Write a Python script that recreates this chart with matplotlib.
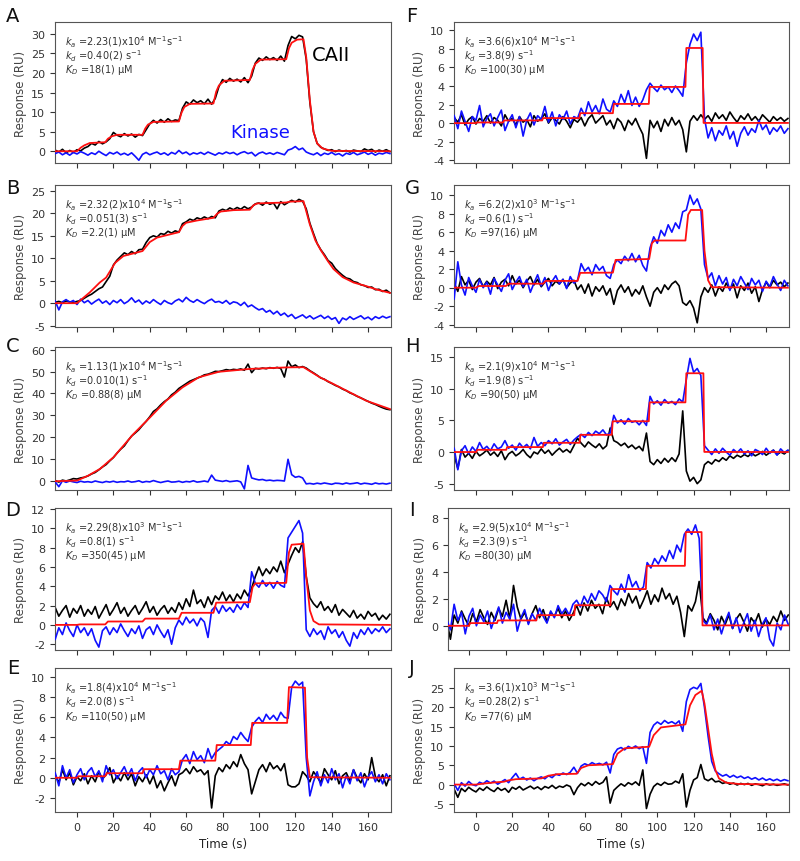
import numpy as np
import matplotlib
matplotlib.use("Agg")
import matplotlib.pyplot as plt

plt.rcParams["font.family"] = ["DejaVu Sans"]
plt.rcParams["mathtext.fontset"] = "dejavusans"
plt.rcParams["axes.unicode_minus"] = False

# sampling grid of the traces (s)
t = np.arange(-12, 173, 2)

# ---------------- panel A ----------------
a_black = [0.3, -0.2, 0.5, -0.4, 0.2, -0.3, 0.4, 0.1, 0.8, 1.2,
           2.0, 1.6, 2.5, 1.9, 2.4, 3.2, 4.8, 4.1, 3.7, 4.5,
           3.9, 4.4, 3.6, 4.3, 4.0, 5.5, 7.0, 7.9, 7.2, 8.1,
           7.4, 8.3, 7.6, 8.0, 7.8, 11.0, 12.6, 12.0, 13.1, 12.4,
           12.9, 12.1, 13.3, 12.0, 13.5, 16.5, 18.3, 17.6, 18.6, 17.9,
           18.4, 17.7, 18.8, 17.5, 19.2, 22.5, 23.8, 23.2, 24.1, 23.4,
           23.9, 23.2, 24.3, 23.0, 27.0, 29.3, 28.7, 29.6, 29.2, 23.5,
           12.5, 5.0, 2.0, 1.0, 0.6, 0.2, 0.4, -0.1, 0.3, 0.0,
           0.2, -0.2, 0.3, 0.1, -0.1, 0.6, 0.2, 0.5, -0.2, 0.3,
           0.0, 0.4, -0.1]
a_blue = [-0.6, -0.2, -0.9, -0.4, -1.0, -0.3, -0.7, -0.1, -0.5, -1.0,
          -0.4, -0.8, 0.0, -0.6, -1.1, -0.3, -0.7, -0.2, -0.9, -0.5,
          -1.0, -0.4, -1.3, -2.3, -0.8, -0.3, -0.9, -0.5, -0.2, -0.8,
          -0.4, -1.0, -0.3, -0.7, 0.2, -0.6, -0.2, -0.9, -0.4, -0.7,
          -0.3, -0.8, -0.2, -0.6, -1.0, -0.4, -0.7, -0.2, -0.6, -0.3,
          -0.9, -0.4, -0.1, -0.6, -0.3, -1.2, -0.5, -0.2, -0.7, -0.4,
          -0.8, -0.3, -0.6, -0.9, 0.3, 0.6, 1.2, 0.4, 0.8, -0.2,
          -0.6, -0.9, -0.4, -1.1, -0.5, -0.8, -0.3, -0.9, -0.6, -1.2,
          -0.5, -0.8, -0.3, -0.9, -0.6, -0.2, -0.8, -0.4, -1.0, -0.5,
          -0.7, -0.3, -0.6]
a_fit_t = [-12, 0, 2, 4, 7, 15.5, 17, 19, 22, 36, 37.5, 39, 42, 56, 57.5, 59, 62,
           75, 76.5, 78, 81, 95, 96.5, 98, 101, 115, 116.5, 118, 121, 124.5,
           126, 128, 130, 132, 135, 140, 172]
a_fit_y = [0, 0, 0.9, 1.5, 2.1, 2.3, 3.2, 3.8, 4.2, 4.2, 5.8, 6.8, 7.5, 7.6, 9.9, 11.3, 12.1,
           12.2, 15.2, 16.8, 18.0, 18.2, 20.8, 22.3, 23.4, 23.5, 26.3, 27.7, 28.5, 28.6,
           24.0, 13.0, 5.0, 2.0, 0.7, 0.1, 0.0]

# ---------------- panel B ----------------
b_black = [0.2, 0.4, 0.1, 0.5, 0.3, 0.2, 0.4, 0.6, 1.1, 1.6,
           2.0, 2.6, 3.2, 3.6, 4.8, 6.0, 8.5, 9.6, 10.4, 11.2,
           10.8, 11.5, 11.0, 11.9, 12.0, 13.5, 14.6, 15.0, 14.7, 15.5,
           15.3, 16.0, 15.6, 16.1, 15.8, 17.7, 18.1, 18.7, 18.4, 19.0,
           18.7, 19.2, 18.8, 19.3, 19.0, 20.5, 20.9, 20.6, 21.2, 20.8,
           21.3, 20.9, 21.5, 21.0, 21.4, 22.1, 22.3, 21.8, 22.5, 22.0,
           22.3, 21.0, 22.6, 21.9, 22.4, 22.9, 22.5, 23.1, 22.7, 21.0,
           17.8, 15.5, 13.3, 11.9, 10.8, 9.5, 8.9, 7.7, 6.9, 6.2,
           5.6, 5.4, 4.8, 4.6, 4.1, 3.9, 3.5, 3.6, 3.0, 3.1,
           2.6, 2.9, 2.3]
b_blue = [0.5, -1.5, 0.3, 0.8, 0.2, 0.6, -0.3, 0.9, 0.1, 0.6,
          -0.2, 0.4, 0.9, 0.0, 0.5, -0.3, 0.6, 0.1, 0.8, -0.1,
          0.4, 1.2, 0.2, 0.7, -0.2, 0.5, 0.0, 0.8, 0.2, -0.3,
          0.6, 0.1, -0.2, 0.5, 0.9, 0.3, 1.3, 0.6, 0.2, 0.8,
          0.3, -0.1, 0.5, 0.9, 0.2, 0.4, 0.0, 0.6, -0.2, 0.3,
          0.1, -0.5, 0.2, -0.8, -0.4, -1.0, -1.5, -1.2, -2.0, -1.6,
          -2.4, -1.8, -2.7, -2.2, -3.0, -2.5, -3.4, -3.0, -2.6, -3.3,
          -2.8, -3.5, -3.1, -2.7, -3.4, -2.9, -3.6, -3.2, -4.5, -3.3,
          -3.7, -3.0, -3.6, -3.2, -2.8, -3.5, -3.1, -3.7, -3.0, -3.4,
          -2.9, -3.3, -3.0]
b_fit_t = [-12, 0, 7, 12.5, 16, 21, 25.5, 36, 40, 44, 56, 58, 60, 66, 75, 77, 79, 86,
           95, 97, 99, 106, 115, 117, 124.5, 128, 131, 134, 138, 141, 146, 152, 159, 165, 172]
b_fit_y = [0, 0, 2.4, 4.6, 5.7, 9.0, 10.5, 11.6, 13.6, 14.6, 15.8, 17.2, 17.9, 18.4, 19.0,
           19.9, 20.4, 20.7, 20.8, 21.8, 22.2, 22.3, 22.4, 22.6, 22.7, 17.5, 14.0, 11.8,
           9.3, 7.6, 5.8, 4.6, 3.8, 3.0, 2.3]

# ---------------- panel C ----------------
c_black = [0.3, -0.4, 0.5, 0.1, 0.6, 1.2, 1.0, 1.5, 1.8, 2.4,
           3.3, 4.0, 5.2, 6.5, 7.6, 9.3, 10.8, 12.8, 14.6, 16.1,
           18.5, 20.6, 22.0, 23.5, 25.5, 27.3, 29.4, 31.8, 33.0, 34.8,
           36.3, 37.5, 39.4, 40.6, 42.3, 43.4, 44.5, 45.6, 46.3, 47.0,
           47.6, 48.5, 48.8, 49.4, 50.1, 50.0, 50.4, 50.9, 50.6, 51.0,
           50.8, 51.2, 50.6, 53.4, 49.5, 51.5, 51.2, 51.6, 51.3, 51.8,
           51.5, 51.9, 51.4, 47.5, 54.8, 52.2, 53.0, 51.8, 52.3, 51.6,
           50.4, 49.4, 48.3, 47.1, 46.5, 45.4, 44.6, 43.7, 43.0, 42.0,
           41.3, 40.3, 39.6, 38.7, 38.0, 37.2, 36.4, 35.6, 35.0, 34.2,
           33.5, 32.9, 32.6]
c_blue = [-0.3, -2.5, 0.2, -0.5, 0.1, -0.3, -0.6, 0.0, -0.4, -0.2,
          -0.5, 0.1, -0.3, -0.6, -0.1, -0.4, 0.0, -0.5, -0.2, -0.3,
          0.1, -0.4, -0.2, 0.2, -0.5, -0.1, -0.3, 0.3, -0.2, -0.6,
          -0.2, 0.1, -0.4, -0.3, 0.0, -0.5, -0.1, -0.3, 0.2, -0.4,
          -0.2, 0.1, -0.3, 2.8, 0.5, 0.2, -0.1, 0.3, -0.2, 0.0,
          0.2, -0.3, -3.5, 7.2, 1.5, 1.0, 0.6, 0.8, 0.3, 0.5,
          0.2, 0.4, 0.3, 0.1, 10.0, 3.0, 1.8, 2.2, 1.5, -1.2,
          -1.0, -1.3, -0.9, -1.2, -0.8, -1.1, -1.4, -0.9, -1.0, -1.3,
          -0.8, -1.2, -1.0, -0.7, -1.3, -0.9, -1.1, -1.4, -0.8, -1.2,
          -1.0, -1.3, -0.9]
c_fit_t = [-12, 0, 6, 12.6, 20, 31, 40, 49, 58, 67, 78, 95, 115, 124.5,
           133.5, 141, 150, 159, 172]
c_fit_y = [0, 0.3, 2.5, 5.6, 10.9, 21.5, 29.0, 36.7, 42.8, 47.4, 49.9, 51.2, 51.9, 52.0,
           47.4, 44.3, 40.5, 36.7, 32.9]

# ---------------- panel D ----------------
d_black = [1.8, 0.9, 1.5, 2.0, 0.8, 1.7, 1.2, 2.0, 0.9, 1.6,
           1.1, 1.9, 0.7, 1.4, 2.1, 1.0, 1.6, 2.3, 1.2, 1.8,
           0.9, 1.5, 2.0, 1.1, 1.7, 2.4, 1.3, 1.9, 1.0, 1.6,
           2.0, 1.2, 1.8, 1.3, 2.3, 1.6, 2.7, 1.9, 3.6, 2.2,
           2.6, 1.8, 2.9, 2.1, 3.0, 2.6, 3.4, 2.5, 3.1, 2.4,
           3.2, 2.7, 3.6, 3.0, 3.8, 5.0, 6.0, 5.1, 5.8, 5.3,
           6.0, 5.5, 6.6, 5.4, 6.3, 7.2, 8.0, 7.5, 8.6, 5.0,
           2.8, 2.2, 1.8, 2.4, 1.5, 1.9, 1.3, 2.1, 1.0, 1.6,
           1.2, 0.8, 1.5, 0.7, 1.1, 0.6, 1.4, 0.9, 1.2, 0.5,
           1.0, 0.6, 1.1]
d_blue = [-1.5, -0.3, -1.0, 0.2, -0.6, -1.2, 0.0, -0.8, -0.3, -1.1,
          -0.4, -1.6, -2.3, -0.6, -0.2, -1.0, -0.3, -0.8, 0.1, -0.6,
          -1.2, -0.4, -0.9, -0.1, -1.4, -0.5, -0.2, -1.0, 0.0, -0.7,
          -1.3, -0.5, -2.0, -0.3, 0.5, 0.0, 0.8, 0.2, 0.6, -0.1,
          0.7, 0.3, -1.3, 1.5, 1.9, 1.2, 2.0, 1.4, 1.8, 1.3,
          2.1, 1.6, 2.3, 1.8, 5.5, 4.3, 3.9, 4.6, 4.0, 4.4,
          3.8, 4.5, 4.1, 3.9, 9.0, 9.6, 10.2, 10.8, 9.5, -0.5,
          -1.2, -0.4, -1.0, -0.6, -1.5, -0.2, -0.9, -0.5, -1.3, -0.7,
          -1.6, -2.2, -0.8, -1.4, -0.5, -1.0, -0.3, -0.9, -0.4, -0.7,
          -0.2, -0.8, -0.4]
d_fit_t = [-12, 0, 1.5, 15.5, 17, 36, 37.5, 56, 57.5, 75, 76.5, 95, 96.5, 98,
           115, 116.5, 118, 124.5, 126, 128, 130, 133, 172]
d_fit_y = [0, 0, 0.05, 0.05, 0.35, 0.35, 0.65, 0.65, 1.25, 1.25, 2.3, 2.35, 3.9, 4.3,
           4.35, 7.5, 8.3, 8.4, 5.0, 1.5, 0.4, 0.05, 0]

# ---------------- panel E ----------------
e_black = [0.3, -0.5, 0.8, -0.2, 0.5, -0.7, 0.1, -0.3, 0.4, -0.6,
           0.2, -0.4, 0.6, -0.1, 0.3, 1.0, -0.5, 0.2, -0.3, 0.5,
           -0.2, 0.4, -0.8, 0.1, -0.4, 0.3, -0.6, 0.2, -1.0, -0.3,
           -1.3, -0.5, 0.2, -0.8, 0.3, 0.5, 0.9, 0.4, 1.1, 0.6,
           0.8, 0.3, 0.7, -3.0, 0.2, 1.0, 0.6, 1.3, 0.9, 1.6,
           1.1, 2.3, 1.4, 0.8, -1.6, -0.4, 0.8, 1.3, 0.6, 1.5,
           0.9, 1.2, 0.7, 1.4, -0.7, -0.9, -0.9, -0.6, 0.6, 0.2,
           -0.4, 0.6, 0.1, -0.5, 0.9, 0.3, -0.2, 0.7, -0.6, 0.2,
           0.5, -0.3, 0.8, 0.0, -0.5, 0.4, -0.2, 2.0, 0.1, -0.4,
           0.3, -0.8, 0.2]
e_blue = [0.5, -0.8, 1.2, 0.0, 0.8, -0.5, 0.3, 0.9, -0.2, 0.6,
          1.0, 0.1, 0.7, -0.4, 1.2, 0.3, 0.8, -0.1, 0.5, 1.1,
          0.2, 0.9, -0.3, 0.6, 1.0, 0.0, 0.8, 0.3, 1.2, 0.4,
          0.7, -0.2, 0.9, 0.3, 0.6, 1.8, 2.3, 1.4, 2.6, 1.8,
          2.2, 1.5, 2.9, 1.9, 2.5, 2.8, 3.1, 3.6, 3.3, 4.1,
          3.8, 4.5, 4.0, 3.6, 5.0, 5.6, 6.0, 5.5, 6.3, 5.8,
          6.2, 5.7, 6.5, 6.0, 5.9, 9.0, 9.6, 9.2, 9.5, 2.0,
          -1.8, -0.4, 0.6, -0.8, 0.3, -0.5, 0.9, -0.2, 0.4, -1.0,
          0.2, -0.6, 0.8, -0.3, 0.5, -0.9, 0.1, 0.6, -0.4, 0.3,
          -0.6, 0.4, -0.2]
e_fit_t = [-12, 0, 0.8, 15.5, 16.3, 36, 36.8, 56, 56.8, 76, 76.8, 95.5, 96.3,
           115.5, 116.5, 125.3, 126.5, 128, 172]
e_fit_y = [0, 0, 0.15, 0.15, 0.45, 0.45, 0.85, 0.85, 1.7, 1.7, 3.25, 3.25, 5.45,
           5.45, 9.0, 8.95, 2.0, 0.05, 0.0]

# ---------------- panel F ----------------
f_black = [0.6, 0.1, 0.9, -0.2, 0.4, 0.7, -0.1, 0.5, 0.2, 0.8,
           0.0, 0.6, 0.3, -0.3, 0.9, 0.2, 0.5, -0.2, 0.7, 0.1,
           0.4, -0.4, 0.8, 0.2, 0.5, 1.0, 0.0, 0.6, 0.3, -0.1,
           0.7, 0.2, -0.5, 0.4, 0.1, 0.6, -0.3, 0.5, 0.9, 0.0,
           0.4, 0.8, -0.2, 0.3, -0.6, 0.5, 0.1, -0.8, 0.3, -0.2,
           0.5, -0.4, -1.2, -3.8, 0.3, -0.5, 0.2, -0.9, 0.4, -0.3,
           0.6, -0.2, 0.3, -0.7, -3.1, 0.2, 0.8, 0.3, 0.9, 0.4,
           0.8, 0.2, 1.1, 0.5, 0.9, 0.3, 1.2, 0.6, 0.1, 0.8,
           0.4, 1.0, 0.3, 0.7, 0.2, 0.9, 0.5, 0.1, 0.7, 0.3,
           0.6, 0.2, 0.5]
f_blue = [0.8, -0.6, 1.3, 0.2, -0.9, 0.7, 0.3, 1.9, -0.4, 0.5,
          1.0, -0.3, 0.6, 1.4, -0.8, 0.2, 0.9, -0.5, 0.7, -1.4,
          0.3, 1.1, -0.2, 0.8, 0.4, 1.8, 0.1, 1.2, -0.3, 0.9,
          0.4, 1.3, -0.1, 0.7, 0.5, 1.6, 0.8, 2.3, 1.2, 1.9,
          1.0, 2.6, 1.5, 1.2, 2.4, 1.8, 3.1, 2.2, 3.5, 1.9,
          2.8, 1.8, 2.5, 3.6, 4.3, 3.8, 3.4, 4.1, 3.6, 3.9,
          3.3, 4.0, 3.5, 2.9, 6.5, 8.5, 9.6, 8.9, 9.8, 0.5,
          -1.6, -0.5, -1.9, -0.8, -1.3, -0.3, -1.7, -0.9, -2.5, -1.1,
          -0.4, -1.3, -0.6, -1.0, 0.3, -0.7, -0.2, -1.2, -0.5, -0.9,
          -0.3, -1.1, -0.6]
f_fit_t = [-12, 0, 0.5, 15, 15.5, 36.5, 37, 57, 57.5, 75.5, 76, 95.3, 95.8,
           115.5, 116, 125, 125.5, 172]
f_fit_y = [0, 0, 0.07, 0.07, 0.29, 0.29, 0.54, 0.54, 1.07, 1.07, 2.07, 2.07, 3.9,
           3.9, 8.1, 8.1, 0.02, 0.02]

# ---------------- panel G ----------------
g_black = [0.5, -0.4, 1.2, 0.3, 0.8, -0.2, 0.6, 1.0, 0.1, 0.7,
           0.3, 1.1, -0.1, 0.6, 0.9, 0.2, 1.3, 0.4, 0.8, 0.0,
           0.7, 1.2, 0.3, 0.9, 0.1, 0.6, 1.0, 0.2, 0.7, 0.4,
           0.9, 0.0, 0.5, 0.8, -0.2, 0.3, -0.6, 0.4, -0.9, 0.1,
           -0.4, 0.2, -0.8, -0.1, -1.8, -0.3, 0.3, -0.5, 0.1, -0.9,
           -0.2, -0.7, 0.2, -1.0, -2.0, -0.5, 0.0, -0.6, 0.3, -0.2,
           0.4, 0.7, 0.2, -1.6, -1.9, -1.4, -2.2, -3.8, -1.0, 0.0,
           -0.5, 0.3, -0.9, 0.1, -0.4, 0.5, -0.2, 0.4, -1.1, 0.2,
           -0.3, 0.5, -0.6, 0.1, -1.5, -0.2, 0.6, 0.0, 0.8, 0.3,
           0.6, 0.1, 0.5]
g_blue = [-1.2, 2.8, 0.3, -0.8, 1.1, 0.2, -0.5, 0.9, 0.0, 0.6,
          -0.7, 1.0, 0.3, -0.4, 0.8, 1.5, -0.2, 0.6, 1.2, 0.1,
          0.9, -0.5, 0.5, 1.4, 0.2, 1.1, -0.3, 0.7, 1.3, 0.4,
          0.9, -0.1, 1.2, 0.5, 0.8, 2.6, 1.8, 2.2, 1.4, 2.5,
          1.9, 2.3, 1.3, 1.0, 2.5, 3.0, 2.6, 3.4, 2.9, 3.7,
          2.8, 3.5, 2.4, 1.8, 4.3, 5.5, 4.8, 6.2, 5.6, 6.8,
          6.0, 7.0, 6.4, 8.2, 8.4, 10.0, 9.0, 9.6, 8.5, 2.5,
          1.0, 1.6, 0.2, 1.3, 0.4, 1.1, -0.3, 0.9, 0.2, 1.2,
          0.5, -0.2, 1.0, 0.3, 0.8, -0.4, 0.7, 0.1, 1.2, 0.4,
          -0.3, 0.8, 0.2]
g_fit_t = [-12, 0, 1.5, 16.5, 18, 37, 38.5, 56, 57.5, 75.5, 77, 95.5, 97, 98.5,
           115.5, 117, 118.5, 124.7, 126, 128, 130, 172]
g_fit_y = [0, 0, 0.18, 0.18, 0.43, 0.43, 0.73, 0.73, 1.6, 1.63, 3.0, 3.1, 4.8, 5.1,
           5.1, 7.9, 8.4, 8.4, 4.0, 0.8, 0.05, 0.0]

# ---------------- panel H ----------------
h_black = [-0.5, -2.6, 0.4, -0.8, -0.2, -1.0, 0.1, -0.6, -0.2, 0.3,
           -0.5, 0.0, -0.7, 0.2, -1.2, -0.3, 0.1, -0.6, -0.2, 0.4,
           -0.4, -0.9, 0.0, -0.3, 0.5, -0.2, 0.3, -0.5, 0.1, 0.6,
           0.0, 0.4, -0.1, 1.0, 2.2, 1.4, 0.8, 1.6, 1.1, 0.7,
           1.3, 0.5, 1.0, 3.8, 1.8, 1.5, 1.0, 1.4, 0.7, 1.1,
           0.5, 0.9, 0.2, 3.0, -1.5, -2.0, -1.2, -1.8, -1.0, -1.6,
           -0.9, -1.5, -0.3, 6.5, -3.0, -4.6, -4.0, -5.0, -4.4, -2.0,
           -1.5, -1.9, -1.2, -1.5, -0.9, -1.3, -0.6, -1.0, -0.5, -0.8,
           -0.4, -0.7, -0.2, -0.6, -0.3, 0.1, -0.5, -0.1, 0.3, -0.4,
           0.0, -0.3, 0.2]
h_blue = [0.6, -2.8, 0.2, 1.0, -0.3, 0.8, 0.1, 1.5, 0.4, 0.9,
          0.2, 1.3, 0.5, 0.8, 1.8, 0.6, 1.1, 0.3, 1.4, 0.7,
          1.2, 0.5, 2.3, 0.9, 1.5, 1.0, 1.8, 1.3, 2.1, 1.1,
          1.6, 2.0, 1.2, 1.9, 2.4, 2.8, 2.3, 3.1, 2.6, 3.3,
          2.9, 3.5, 2.7, 3.0, 5.8, 4.6, 5.1, 4.4, 5.3, 4.7,
          4.9, 4.3, 5.0, 4.2, 8.8, 7.6, 8.1, 7.4, 8.3, 7.7,
          8.0, 7.5, 8.4, 7.9, 11.5, 14.8, 12.6, 13.2, 12.1, 1.0,
          0.3, -0.4, 0.5, -0.2, 0.6, 0.0, -0.5, 0.4, -0.1, 0.5,
          -0.3, 0.2, -0.6, 0.4, 0.1, -0.4, 0.6, -0.2, 0.3, -0.5,
          0.5, -0.1, 0.3]
h_fit_t = [-12, 0.2, 0.7, 16.7, 17.2, 36.9, 37.4, 57.1, 57.6, 74.9, 75.4, 95.3, 95.8,
           115.5, 116, 125.4, 125.9, 172]
h_fit_y = [0, 0, 0.35, 0.35, 0.78, 0.78, 1.46, 1.46, 2.72, 2.72, 4.86, 4.86, 7.85,
           7.85, 12.45, 12.45, 0.02, 0.0]

# ---------------- panel I ----------------
i_black = [0.4, -1.0, 0.8, 0.2, 1.1, 0.5, 0.0, 0.9, 0.3, 1.2,
           0.6, 0.1, 1.0, 0.4, 1.3, 0.7, 1.9, 0.5, 3.0, 1.4,
           0.5, 1.0, 0.2, 0.9, 1.5, 0.6, 1.2, 0.3, 1.0, 0.7,
           1.3, 0.6, 1.1, 0.4, 0.9, 1.5, 0.8, 1.7, 1.1, 1.9,
           1.3, 1.6, 0.9, 2.1, 1.4, 1.8, 1.2, 2.0, 1.5, 2.4,
           1.7, 2.2, 1.3, 1.9, 2.6, 1.6, 2.3, 1.8, 2.8, 2.0,
           2.4, 1.6, 2.2, 1.0, -0.8, 1.5, 1.1, 1.8, 3.3, 0.6,
           0.2, 0.9, 0.4, -0.3, 0.7, 0.1, 0.8, -0.2, 0.5, 0.9,
           0.3, -0.4, 0.6, 0.2, 0.9, -0.1, 0.5, 0.1, 0.7, 0.3,
           1.1, 0.4, 0.8]
i_blue = [0.5, -0.3, 1.6, 0.4, 1.0, -0.6, 0.7, 1.3, 0.0, 0.8,
          0.3, 1.1, -0.2, 0.6, 1.4, 0.2, 1.0, 0.5, 1.6, -0.4,
          0.6, 1.2, 0.1, 0.9, 0.4, 1.3, 0.7, 0.2, 1.1, 0.6,
          1.5, 0.9, 1.3, 0.8, 1.6, 1.9, 1.4, 2.2, 1.7, 2.4,
          1.9, 2.6, 2.3, 1.8, 3.0, 2.6, 2.3, 3.1, 2.5, 3.8,
          2.9, 3.3, 2.6, 2.9, 4.7, 4.3, 5.0, 4.6, 5.2, 4.8,
          5.6, 5.0, 6.0, 5.5, 6.8, 7.2, 6.8, 7.5, 6.5, 0.4,
          0.1, 0.8, -0.3, 0.5, -0.6, 0.3, 1.0, -0.2, 0.6, -0.5,
          0.2, 0.9, -0.4, 0.4, -0.8, 0.1, 0.6, -1.0, -1.5, 0.2,
          -0.3, 0.8, 0.1]
i_fit_t = [-12, 0, 0.5, 15.1, 15.6, 36.3, 36.8, 56.7, 57.2, 76.2, 76.7, 95.3, 95.8,
           116.3, 116.8, 125.3, 125.8, 172]
i_fit_y = [0, 0, 0.2, 0.2, 0.4, 0.4, 0.79, 0.79, 1.53, 1.53, 2.73, 2.73, 4.46,
           4.46, 6.97, 6.97, 0.03, 0.03]

# ---------------- panel J ----------------
j_black = [-1.2, -3.3, -1.0, -1.8, -0.7, -1.4, -1.9, -0.9, -1.5, -0.6,
           -1.3, -1.8, -0.8, -1.5, -1.0, -2.0, -0.7, -1.2, -0.5, -1.4,
           -0.9, -0.4, -1.1, -0.6, -1.3, -0.5, -0.9, -0.2, -1.0, -0.4,
           -0.7, -0.1, -0.5, -2.6, -0.8, 0.3, -0.3, 0.5, -0.2, 0.8,
           0.1, 0.6, 2.0, -4.8, -1.5, -0.6, 0.2, -0.4, 0.5, 0.0,
           0.7, -0.2, 3.8, -6.2, -2.5, -0.5, 0.3, -0.2, 0.6, 0.1,
           0.2, 0.9, 0.4, 2.8, -5.8, -1.5, 1.2, 1.8, 5.2, 1.5,
           1.0, 1.6, 0.7, 0.9, 0.3, 0.6, 0.1, 0.4, -0.1, 0.3,
           0.0, 0.3, -0.2, 0.2, 0.0, -0.3, 0.2, -0.1, 0.1, -0.2,
           0.0, 0.2, -0.1]
j_blue = [0.2, -1.5, 0.5, -0.4, 0.8, 0.0, -0.3, 0.6, 0.2, 1.0,
          0.4, 0.9, 0.1, 0.7, 1.3, 0.5, 1.8, 2.9, 1.4, 1.9,
          1.2, 1.7, 1.0, 1.6, 2.0, 1.5, 2.3, 1.8, 2.7, 2.4,
          3.0, 2.6, 3.2, 4.5, 2.9, 4.8, 5.4, 5.0, 5.7, 5.2,
          5.5, 5.1, 5.8, 3.0, 7.8, 9.2, 9.6, 9.0, 9.9, 9.4,
          10.0, 9.3, 9.8, 5.5, 13.5, 15.4, 16.2, 15.6, 16.6, 15.9,
          16.3, 15.7, 16.5, 13.8, 21.5, 24.6, 25.2, 24.8, 26.2, 20.0,
          12.5, 6.0, 3.5, 2.8, 2.2, 2.6, 1.9, 2.4, 1.8, 2.2,
          1.6, 2.0, 1.4, 1.8, 1.2, 1.7, 1.1, 1.5, 1.0, 1.4,
          0.9, 1.3, 1.0]
j_fit_t = [-12, 0, 5, 10, 15.5, 18, 22, 36, 40, 45, 55.5, 58, 62, 75.5, 78, 82,
           95.5, 98, 102, 115.5, 118, 121, 124.5, 126, 128, 130, 132, 134, 138, 145, 172]
j_fit_y = [0, 0, 0.3, 0.55, 0.75, 1.1, 1.4, 1.6, 2.3, 2.7, 2.8, 4.3, 5.0, 5.3, 8.0, 9.4,
           9.8, 12.8, 14.8, 15.6, 20.5, 23.2, 24.3, 21.0, 14.5, 8.0, 3.8, 1.6, 0.5, 0.15, 0.0]

# fitted constants shown in each panel: (ka, exponent, kd, KD)
constants = {
    "A": ("2.23(1)", "4", "0.40(2)", "18(1)"),
    "B": ("2.32(2)", "4", "0.051(3)", "2.2(1)"),
    "C": ("1.13(1)", "4", "0.010(1)", "0.88(8)"),
    "D": ("2.29(8)", "3", "0.8(1)", "350(45)"),
    "E": ("1.8(4)", "4", "2.0(8)", "110(50)"),
    "F": ("3.6(6)", "4", "3.8(9)", "100(30)"),
    "G": ("6.2(2)", "3", "0.6(1)", "97(16)"),
    "H": ("2.1(9)", "4", "1.9(8)", "90(50)"),
    "I": ("2.9(5)", "4", "2.3(9)", "80(30)"),
    "J": ("3.6(1)", "3", "0.28(2)", "77(6)"),
}

panels = [
    ("A", a_black, a_blue, a_fit_t, a_fit_y, (-3, 33), np.arange(0, 31, 5)),
    ("B", b_black, b_blue, b_fit_t, b_fit_y, (-5.3, 26.3), np.arange(-5, 26, 5)),
    ("C", c_black, c_blue, c_fit_t, c_fit_y, (-4, 61.2), np.arange(0, 61, 10)),
    ("D", d_black, d_blue, d_fit_t, d_fit_y, (-2.6, 12.1), np.arange(-2, 13, 2)),
    ("E", e_black, e_blue, e_fit_t, e_fit_y, (-3.4, 10.9), np.arange(-2, 11, 2)),
    ("F", f_black, f_blue, f_fit_t, f_fit_y, (-4.3, 10.9), np.arange(-4, 11, 2)),
    ("G", g_black, g_blue, g_fit_t, g_fit_y, (-4.25, 11.1), np.arange(-4, 11, 2)),
    ("H", h_black, h_blue, h_fit_t, h_fit_y, (-6, 16.6), np.arange(-5, 16, 5)),
    ("I", i_black, i_blue, i_fit_t, i_fit_y, (-1.8, 8.76), np.arange(0, 9, 2)),
    ("J", j_black, j_blue, j_fit_t, j_fit_y, (-7.1, 30.2), np.arange(-5, 26, 5)),
]

# axes placement in pixels (top, bottom) per row, (left, width) per column
W, H = 800, 862
rows_px = [(23, 164), (186, 328), (348, 491), (509, 651), (669, 813)]
letter_y = [17, 188, 347, 510, 668]

fig = plt.figure(figsize=(W / 100, H / 100), dpi=100)
grey = "#444444"

for k, (name, black, blue, fit_t, fit_y, ylim, yticks) in enumerate(panels):
    col, row = divmod(k, 5)
    top, bot = rows_px[row]
    if col == 0:
        left, width, xlim = 55, 336, (-12.1, 172.6)
    elif name == "I":
        left, width, xlim = 448, 341, (-11.3, 172.4)
    else:
        left, width, xlim = 454, 335, (-12.1, 172.6)
    ax = fig.add_axes([left / W, 1 - bot / H, width / W, (bot - top) / H])

    assert len(black) == len(t) and len(blue) == len(t)
    ax.plot(t, black, color="black", lw=1.2, zorder=2)
    ax.plot(t, blue, color="#1010ff", lw=1.2, zorder=3)
    ax.plot(fit_t, fit_y, color="#ff1010", lw=1.3, zorder=4)

    ax.set_xlim(*xlim)
    ax.set_ylim(*ylim)
    ax.set_xticks(np.arange(0, 161, 20))
    ax.set_yticks(yticks)
    if row == 4:
        ax.set_xlabel("Time (s)", fontsize=8.5, color="#222222")
    else:
        ax.set_xticklabels([])
    ax.set_ylabel("Response (RU)", fontsize=8.5, color=grey, labelpad=3)
    ax.tick_params(direction="out", length=3.5, width=0.8, labelsize=8,
                   colors="#333333")
    for sp in ax.spines.values():
        sp.set_color("#555555")
        sp.set_linewidth(0.8)

    ka, ex, kd, kdis = constants[name]
    lines = [r"$k_a$ =" + ka + "x10$^{" + ex + "}$ M$^{-1}$s$^{-1}$",
             r"$k_d$ =" + kd + " s$^{-1}$",
             r"$K_D$ =" + kdis + r" $\mathrm{\mu}$M"]
    for j, line in enumerate(lines):
        ax.text(0.03, 0.865 - j * 0.098, line, transform=ax.transAxes,
                fontsize=7, color="#333333", va="center", ha="left")

    lx = 13 if col == 0 else 412
    fig.text(lx / W, 1 - letter_y[row] / H, name, fontsize=14,
             ha="center", va="center", color="#111111")

    if name == "A":
        ax.text(129, 24.8, "CAII", fontsize=14, color="black", va="center")
        ax.text(84, 4.9, "Kinase", fontsize=13, color="#1010ff", va="center")

fig.savefig("out.png", dpi=100)
